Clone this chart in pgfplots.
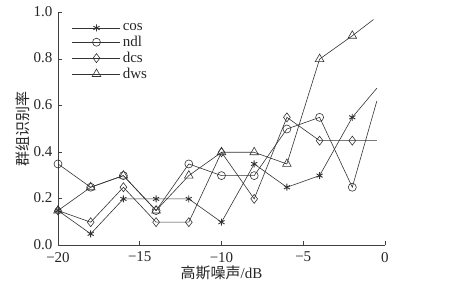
\documentclass[border=0pt]{standalone}
\usepackage{pgfplots}
\pgfplotsset{compat=1.18}
\usepackage{fontspec}
\setmainfont{Liberation Serif}
\newfontfamily\cjk{Noto Sans CJK SC}
\begin{document}
\begin{tikzpicture}
\path[use as bounding box] (0pt,0pt) rectangle (451pt,289pt);
\begin{axis}[
  at={(58pt,43.5pt)}, anchor=south west,
  scale only axis, width=327pt, height=233pt,
  xmin=-20, xmax=0, ymin=0, ymax=1,
  axis x line*=bottom, axis y line*=left,
  axis line style={black!75, line width=0.8pt, -},
  xtick={-20,-15,-10,-5,0},
  xticklabels={−20,−15,−10,−5,0},
  ytick={0,0.2,0.4,0.6,0.8,1.0},
  yticklabels={0.0,0.2,0.4,0.6,0.8,1.0},
  tick align=inside, major tick length=4pt,
  tick style={black!75, line width=0.8pt},
  ticklabel style={font=\fontsize{15}{18}\selectfont, text=black!85},
  xticklabel style={yshift=-3pt},
  yticklabel style={xshift=-2pt, yshift=1pt},
  xlabel={{\cjk 高斯噪声}/dB},
  ylabel={\cjk 群组识别率},
  label style={font=\fontsize{15}{18}\selectfont, text=black!85},
  xlabel style={yshift=3pt},
  ylabel style={yshift=-3pt},
  clip=false,
  every axis plot/.append style={black!80, line width=0.6pt, mark indices={1,2,3,4,5,6,7,8,9,10}},
  legend style={at={(13pt,225pt)}, anchor=north west, draw=none, fill=none,
    font=\fontsize{15}{18}\selectfont, text=black!85,
    row sep=0pt, inner sep=1pt},
  legend cell align=left,
  legend image code/.code={\draw[#1,mark=none] (0pt,0pt) -- (48pt,0pt); \draw[#1] plot coordinates {(24pt,0pt)};},
]
\addplot[mark=asterisk, mark size=3.5pt, mark options={line width=0.9pt}] coordinates {
 (-20,0.15) (-18,0.05) (-16,0.2) (-14,0.2) (-12,0.2) (-10,0.1) (-8,0.35) (-6,0.25) (-4,0.3) (-2,0.55) (-0.5,0.675)};
\addlegendentry{cos}
\addplot[mark=o, mark size=4pt] coordinates {
 (-20,0.35) (-18,0.25) (-16,0.3) (-14,0.15) (-12,0.35) (-10,0.3) (-8,0.3) (-6,0.5) (-4,0.55) (-2,0.25) (-0.5,0.62)};
\addlegendentry{ndl}
\addplot[mark=diamond, mark size=4.5pt] coordinates {
 (-20,0.15) (-18,0.1) (-16,0.25) (-14,0.1) (-12,0.1) (-10,0.4) (-8,0.2) (-6,0.55) (-4,0.45) (-2,0.45) (-0.5,0.45)};
\addlegendentry{dcs}
\addplot[mark=triangle, mark size=5pt] coordinates {
 (-20,0.15) (-18,0.25) (-16,0.3) (-14,0.15) (-12,0.3) (-10,0.4) (-8,0.4) (-6,0.35) (-4,0.8) (-2,0.9) (-0.7,0.97)};
\addlegendentry{dws}
\end{axis}
\end{tikzpicture}
\end{document}
